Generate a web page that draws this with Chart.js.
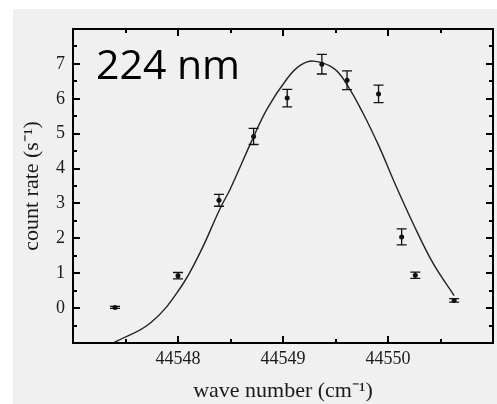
<!DOCTYPE html>
<html>
<head>
<meta charset="utf-8">
<script src="https://cdn.jsdelivr.net/npm/chart.js@4/dist/chart.umd.min.js"></script>
<style>
  html, body { margin: 0; padding: 0; background: #fff; }
  #wrap { width: 497px; height: 404px; }
</style>
</head>
<body>
<div id="wrap"><canvas id="peakChart" width="497" height="404"></canvas></div>
<script>
"use strict";

// measured points (wave number, count rate, error)
const waveNumber = [44547.40, 44548.00, 44548.39, 44548.72, 44549.04, 44549.37, 44549.61, 44549.91, 44550.13, 44550.26, 44550.63];
const countRate  = [0.02, 0.93, 3.09, 4.92, 6.02, 6.99, 6.53, 6.14, 2.04, 0.94, 0.22];
const countErr   = [0.03, 0.09, 0.17, 0.23, 0.25, 0.28, 0.27, 0.25, 0.23, 0.09, 0.05];

// fitted curve
const fitX = [44547.39, 44547.74, 44548.02, 44548.21, 44548.40, 44548.50, 44548.70, 44548.85, 44549.04, 44549.16, 44549.29, 44549.48, 44549.60, 44549.76, 44549.92, 44550.05, 44550.24, 44550.43, 44550.63];
const fitY = [-0.99, -0.42, 0.57, 1.59, 2.85, 3.43, 4.78, 5.72, 6.58, 6.95, 7.08, 6.88, 6.45, 5.60, 4.60, 3.68, 2.42, 1.28, 0.36];

// axis ranges and tick labels
const xMin = 44547, xMax = 44551;
const yMin = -1, yMax = 8;
const xTickLabels = [44548, 44549, 44550];
const yTickLabels = [0, 1, 2, 3, 4, 5, 6, 7];

const serif = '"Liberation Serif", "Times New Roman", serif';

// gray panel behind the plot
const backdrop = {
  id: 'backdrop',
  beforeDraw(chart) {
    const ctx = chart.ctx;
    ctx.save();
    ctx.fillStyle = '#f0f0f0';
    ctx.fillRect(13, 9, chart.width - 13, chart.height - 9);
    ctx.restore();
  }
};

// frame, inward ticks, error bars and the label
const decorations = {
  id: 'decorations',
  afterDatasetsDraw(chart) {
    const ctx = chart.ctx;
    const area = chart.chartArea;
    const xs = chart.scales.x;
    const ys = chart.scales.y;
    ctx.save();

    // error bars
    ctx.strokeStyle = '#111';
    ctx.lineWidth = 1.3;
    waveNumber.forEach((w, i) => {
      const px = xs.getPixelForValue(w);
      const top = ys.getPixelForValue(countRate[i] + countErr[i]);
      const bot = ys.getPixelForValue(countRate[i] - countErr[i]);
      ctx.beginPath();
      ctx.moveTo(px, top); ctx.lineTo(px, bot);
      ctx.moveTo(px - 5, top); ctx.lineTo(px + 5, top);
      ctx.moveTo(px - 5, bot); ctx.lineTo(px + 5, bot);
      ctx.stroke();
    });

    // ticks
    ctx.strokeStyle = '#000';
    ctx.lineWidth = 2;
    ctx.beginPath();
    for (let v = xMin + 0.5; v < xMax; v += 0.5) {
      const len = Number.isInteger(v) ? 7 : 4;
      const px = Math.round(xs.getPixelForValue(v));
      ctx.moveTo(px, area.bottom); ctx.lineTo(px, area.bottom - len);
      ctx.moveTo(px, area.top); ctx.lineTo(px, area.top + len);
    }
    for (let v = yMin + 0.5; v < yMax; v += 0.5) {
      const len = Number.isInteger(v) ? 7 : 4;
      const py = Math.round(ys.getPixelForValue(v));
      ctx.moveTo(area.left, py); ctx.lineTo(area.left + len, py);
      ctx.moveTo(area.right, py); ctx.lineTo(area.right - len, py);
    }
    ctx.stroke();

    // frame
    ctx.strokeRect(area.left, area.top, area.right - area.left, area.bottom - area.top);

    // wavelength label
    ctx.fillStyle = '#000';
    ctx.font = '41px "Open Sans", sans-serif';
    ctx.textBaseline = 'alphabetic';
    ctx.fillText('224 nm', 96, 79);
    ctx.restore();
  }
};

const ctx = document.getElementById('peakChart').getContext('2d');

new Chart(ctx, {
  type: 'scatter',
  data: {
    datasets: [
      {
        label: 'fit',
        data: fitX.map((x, i) => ({ x: x, y: fitY[i] })),
        showLine: true,
        borderColor: '#222',
        borderWidth: 1.4,
        pointRadius: 0,
        tension: 0.4,
        fill: false
      },
      {
        label: 'count rate',
        data: waveNumber.map((x, i) => ({ x: x, y: countRate[i] })),
        backgroundColor: '#111',
        borderColor: '#111',
        pointRadius: 2.5,
        borderWidth: 0
      }
    ]
  },
  options: {
    responsive: false,
    animation: false,
    layout: { padding: { left: 13, top: 29, right: 3, bottom: 0 } },
    plugins: {
      legend: { display: false },
      tooltip: { enabled: false }
    },
    scales: {
      x: {
        type: 'linear',
        min: xMin,
        max: xMax,
        afterFit(scale) { scale.height = 61; },
        afterBuildTicks(scale) {
          scale.ticks = xTickLabels.map(v => ({ value: v }));
        },
        grid: { display: false, drawTicks: false },
        border: { display: false },
        ticks: {
          padding: 5,
          color: '#1a1a1a',
          font: { family: serif, size: 18 },
          callback: v => String(v)
        },
        title: {
          display: true,
          text: 'wave number (cm\u207B\u00B9)',
          color: '#1a1a1a',
          font: { family: serif, size: 22 },
          padding: { top: 0, bottom: 0 }
        }
      },
      y: {
        type: 'linear',
        min: yMin,
        max: yMax,
        afterFit(scale) { scale.width = 60; },
        afterBuildTicks(scale) {
          scale.ticks = yTickLabels.map(v => ({ value: v }));
        },
        grid: { display: false, drawTicks: false },
        border: { display: false },
        ticks: {
          padding: 8,
          color: '#1a1a1a',
          font: { family: serif, size: 18 },
          callback: v => String(v)
        },
        title: {
          display: true,
          text: 'count rate (s\u207B\u00B9)',
          color: '#1a1a1a',
          font: { family: serif, size: 22 },
          padding: { top: 6, bottom: 6 }
        }
      }
    }
  },
  plugins: [backdrop, decorations]
});
</script>
</body>
</html>
